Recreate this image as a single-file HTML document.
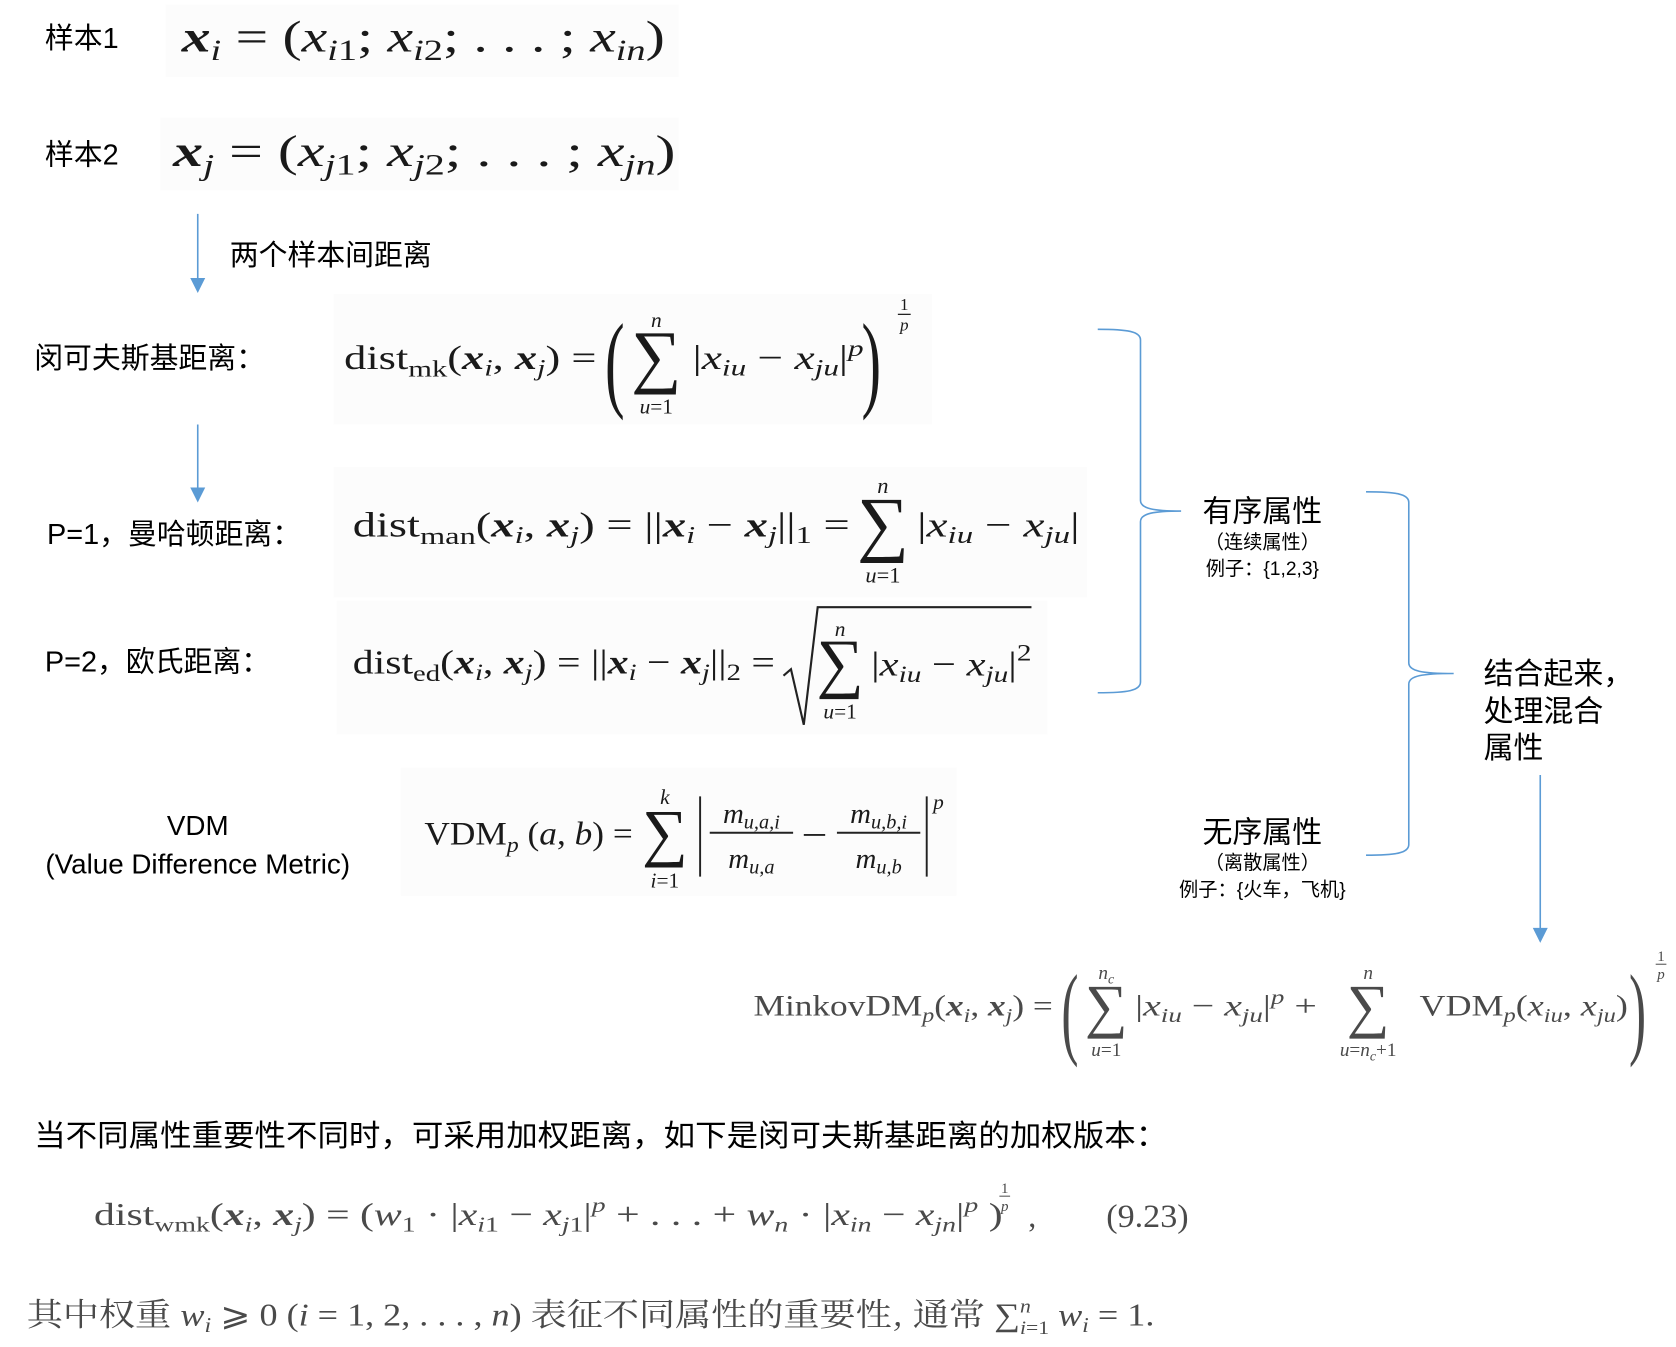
<!DOCTYPE html>
<html><head><meta charset="utf-8"><style>
html,body{margin:0;padding:0;background:#fff;}
svg{display:block;}
.cn{font-family:"Liberation Sans","Noto Sans CJK SC",sans-serif;fill:#000;}
.m{font-family:"Liberation Serif","DejaVu Serif",serif;fill:#1a1a1a;}
.g{fill:#4a4a4a;}
.b{font-weight:bold;font-style:italic;}
.i{font-style:italic;}
</style></head><body>
<svg width="1676" height="1347" viewBox="0 0 1568 1260" xmlns="http://www.w3.org/2000/svg">
<rect x="155" y="4" width="480" height="68" fill="#fcfcfc"/>
<rect x="150" y="110" width="485" height="68" fill="#fcfcfc"/>
<rect x="312" y="275" width="560" height="122" fill="#fcfcfc"/>
<rect x="312" y="437" width="705" height="122" fill="#fcfcfc"/>
<rect x="315" y="562" width="665" height="125" fill="#fcfcfc"/>
<rect x="375" y="718" width="520" height="120" fill="#fcfcfc"/>

<text class="cn" x="42" y="45" font-size="27">样本1</text>
<text class="cn" x="42" y="154" font-size="27">样本2</text>
<text class="cn" x="215" y="248" font-size="27">两个样本间距离</text>
<text class="cn" x="32" y="344" font-size="27">闵可夫斯基距离：</text>
<text class="cn" x="44" y="509" font-size="27">P=1，曼哈顿距离：</text>
<text class="cn" x="42" y="628" font-size="27">P=2，欧氏距离：</text>
<text class="cn" x="185" y="781" font-size="26" text-anchor="middle">VDM</text>
<text class="cn" x="185" y="817" font-size="26" text-anchor="middle">(Value Difference Metric)</text>

<g stroke="#5b9bd5" stroke-width="1.5" fill="none">
<line x1="185" y1="200" x2="185" y2="262"/>
<line x1="185" y1="397" x2="185" y2="458"/>
<line x1="1441" y1="725" x2="1441" y2="870"/>
<path d="M1027,308 C1055,308 1067,310 1067,318 L1067,468 C1067,476 1080,478 1105,478 C1080,478 1067,480 1067,488 L1067,638 C1067,646 1055,648 1027,648"/>
<path d="M1278,460 C1306,460 1318,462 1318,470 L1318,620 C1318,628 1331,630 1360,630 C1331,630 1318,632 1318,640 L1318,790 C1318,798 1306,800 1278,800"/>
</g>
<g fill="#5b9bd5">
<polygon points="178,260 192,260 185,274"/>
<polygon points="178,456 192,456 185,470"/>
<polygon points="1434,868 1448,868 1441,882"/>
</g>

<text class="cn" x="1181" y="488" font-size="28" text-anchor="middle">有序属性</text>
<text class="cn" x="1181" y="513" font-size="18" text-anchor="middle">（连续属性）</text>
<text class="cn" x="1181" y="538" font-size="18" text-anchor="middle">例子：{1,2,3}</text>
<text class="cn" x="1181" y="788" font-size="28" text-anchor="middle">无序属性</text>
<text class="cn" x="1181" y="813" font-size="18" text-anchor="middle">（离散属性）</text>
<text class="cn" x="1181" y="838" font-size="18" text-anchor="middle">例子：{火车，飞机}</text>
<text class="cn" x="1388" y="640" font-size="28">结合起来，</text>
<text class="cn" x="1388" y="675" font-size="28">处理混合</text>
<text class="cn" x="1388" y="709" font-size="28">属性</text>

<text class="m" x="170" y="48" font-size="42" textLength="452" lengthAdjust="spacingAndGlyphs"><tspan class="b">x</tspan><tspan class="i" font-size="28" dy="8">i</tspan><tspan dy="-8"> = (</tspan><tspan class="i">x</tspan><tspan class="i" font-size="28" dy="8">i</tspan><tspan font-size="28">1</tspan><tspan dy="-8">; </tspan><tspan class="i">x</tspan><tspan class="i" font-size="28" dy="8">i</tspan><tspan font-size="28">2</tspan><tspan dy="-8">; . . . ; </tspan><tspan class="i">x</tspan><tspan class="i" font-size="28" dy="8">in</tspan><tspan dy="-8">)</tspan></text>
<text class="m" x="162" y="155" font-size="42" textLength="470" lengthAdjust="spacingAndGlyphs"><tspan class="b">x</tspan><tspan class="i" font-size="28" dy="8">j</tspan><tspan dy="-8"> = (</tspan><tspan class="i">x</tspan><tspan class="i" font-size="28" dy="8">j</tspan><tspan font-size="28">1</tspan><tspan dy="-8">; </tspan><tspan class="i">x</tspan><tspan class="i" font-size="28" dy="8">j</tspan><tspan font-size="28">2</tspan><tspan dy="-8">; . . . ; </tspan><tspan class="i">x</tspan><tspan class="i" font-size="28" dy="8">jn</tspan><tspan dy="-8">)</tspan></text>

<text class="m" x="322" y="345" font-size="32" textLength="236" lengthAdjust="spacingAndGlyphs">dist<tspan font-size="22" dy="7">mk</tspan><tspan dy="-7">(</tspan><tspan class="b">x</tspan><tspan class="i" font-size="22" dy="6">i</tspan><tspan dy="-6">, </tspan><tspan class="b">x</tspan><tspan class="i" font-size="22" dy="6">j</tspan><tspan dy="-6">) =</tspan></text>
<text class="m" x="566" y="372" font-size="100" transform="translate(566 372) scale(0.55 1) translate(-566 -372)">(</text>
<text class="m i" x="614" y="306" font-size="20" text-anchor="middle">n</text>
<text class="m" x="614" y="355" font-size="66" text-anchor="middle">∑</text>
<text class="m" x="614" y="387" font-size="20" text-anchor="middle"><tspan font-style="italic">u</tspan>=1</text>
<text class="m" x="648" y="345" font-size="32" textLength="160" lengthAdjust="spacingAndGlyphs">|<tspan class="i">x</tspan><tspan class="i" font-size="22" dy="6">iu</tspan><tspan dy="-6"> − </tspan><tspan class="i">x</tspan><tspan class="i" font-size="22" dy="6">ju</tspan><tspan dy="-6">|</tspan><tspan class="i" font-size="22" dy="-12">p</tspan></text>
<text class="m" x="806" y="372" font-size="100" transform="translate(806 372) scale(0.55 1) translate(-806 -372)">)</text>
<text class="m" x="846" y="290" font-size="16" text-anchor="middle">1</text>
<line x1="840" y1="294" x2="852" y2="294" stroke="#222" stroke-width="1.2"/>
<text class="m i" x="846" y="309" font-size="16" text-anchor="middle">p</text>

<text class="m" x="330" y="502" font-size="33" textLength="465" lengthAdjust="spacingAndGlyphs">dist<tspan font-size="23" dy="7">man</tspan><tspan dy="-7">(</tspan><tspan class="b">x</tspan><tspan class="i" font-size="23" dy="6">i</tspan><tspan dy="-6">, </tspan><tspan class="b">x</tspan><tspan class="i" font-size="23" dy="6">j</tspan><tspan dy="-6">) = ||</tspan><tspan class="b">x</tspan><tspan class="i" font-size="23" dy="6">i</tspan><tspan dy="-6"> − </tspan><tspan class="b">x</tspan><tspan class="i" font-size="23" dy="6">j</tspan><tspan dy="-6">||</tspan><tspan font-size="23" dy="6">1</tspan><tspan dy="-6"> =</tspan></text>
<text class="m i" x="826" y="461" font-size="21" text-anchor="middle">n</text>
<text class="m" x="826" y="512" font-size="68" text-anchor="middle">∑</text>
<text class="m" x="826" y="545" font-size="21" text-anchor="middle"><tspan font-style="italic">u</tspan>=1</text>
<text class="m" x="858" y="502" font-size="33" textLength="152" lengthAdjust="spacingAndGlyphs">|<tspan class="i">x</tspan><tspan class="i" font-size="23" dy="6">iu</tspan><tspan dy="-6"> − </tspan><tspan class="i">x</tspan><tspan class="i" font-size="23" dy="6">ju</tspan><tspan dy="-6">|</tspan></text>

<text class="m" x="330" y="630" font-size="32" textLength="395" lengthAdjust="spacingAndGlyphs">dist<tspan font-size="22" dy="7">ed</tspan><tspan dy="-7">(</tspan><tspan class="b">x</tspan><tspan class="i" font-size="22" dy="6">i</tspan><tspan dy="-6">, </tspan><tspan class="b">x</tspan><tspan class="i" font-size="22" dy="6">j</tspan><tspan dy="-6">) = ||</tspan><tspan class="b">x</tspan><tspan class="i" font-size="22" dy="6">i</tspan><tspan dy="-6"> − </tspan><tspan class="b">x</tspan><tspan class="i" font-size="22" dy="6">j</tspan><tspan dy="-6">||</tspan><tspan font-size="22" dy="6">2</tspan><tspan dy="-6"> =</tspan></text>
<path d="M733,632 L740,626 L752,678 L765,568 L965,568" stroke="#222" stroke-width="2" fill="none"/>
<text class="m i" x="786" y="595" font-size="20" text-anchor="middle">n</text>
<text class="m" x="786" y="641" font-size="62" text-anchor="middle">∑</text>
<text class="m" x="786" y="672" font-size="20" text-anchor="middle"><tspan font-style="italic">u</tspan>=1</text>
<text class="m" x="815" y="632" font-size="32" textLength="150" lengthAdjust="spacingAndGlyphs">|<tspan class="i">x</tspan><tspan class="i" font-size="22" dy="6">iu</tspan><tspan dy="-6"> − </tspan><tspan class="i">x</tspan><tspan class="i" font-size="22" dy="6">ju</tspan><tspan dy="-6">|</tspan><tspan font-size="22" dy="-14">2</tspan></text>

<text class="m" x="397" y="790" font-size="31" textLength="195" lengthAdjust="spacingAndGlyphs">VDM<tspan class="i" font-size="21" dy="7">p</tspan><tspan dy="-7"> (</tspan><tspan class="i">a</tspan>, <tspan class="i">b</tspan>) =</text>
<text class="m i" x="622" y="752" font-size="20" text-anchor="middle">k</text>
<text class="m" x="622" y="799" font-size="60" text-anchor="middle">∑</text>
<text class="m" x="622" y="830" font-size="20" text-anchor="middle"><tspan font-style="italic">i</tspan>=1</text>
<g stroke="#222" stroke-width="1.8">
<line x1="655" y1="745" x2="655" y2="820"/>
<line x1="867" y1="745" x2="867" y2="820"/>
<line x1="664" y1="779" x2="742" y2="779"/>
<line x1="783" y1="779" x2="861" y2="779"/>
<line x1="752" y1="781" x2="772" y2="781"/>
</g>
<text class="m i" x="703" y="770" font-size="27" text-anchor="middle">m<tspan font-size="19" dy="5">u,a,i</tspan></text>
<text class="m i" x="703" y="812" font-size="27" text-anchor="middle">m<tspan font-size="19" dy="5">u,a</tspan></text>
<text class="m i" x="822" y="770" font-size="27" text-anchor="middle">m<tspan font-size="19" dy="5">u,b,i</tspan></text>
<text class="m i" x="822" y="812" font-size="27" text-anchor="middle">m<tspan font-size="19" dy="5">u,b</tspan></text>
<text class="m i" x="873" y="757" font-size="20">p</text>

<g class="g">
<text class="m g" x="705" y="950" font-size="28" textLength="280" lengthAdjust="spacingAndGlyphs">MinkovDM<tspan class="i" font-size="19" dy="6">p</tspan><tspan dy="-6">(</tspan><tspan class="b">x</tspan><tspan class="i" font-size="19" dy="6">i</tspan><tspan dy="-6">, </tspan><tspan class="b">x</tspan><tspan class="i" font-size="19" dy="6">j</tspan><tspan dy="-6">) =</tspan></text>
<text class="m g" x="993" y="978" font-size="96" transform="translate(993 978) scale(0.5 1) translate(-993 -978)">(</text>
<text class="m g i" x="1035" y="916" font-size="18" text-anchor="middle">n<tspan font-size="13" dy="4">c</tspan></text>
<text class="m g" x="1035" y="960" font-size="56" text-anchor="middle">∑</text>
<text class="m g" x="1035" y="988" font-size="18" text-anchor="middle"><tspan font-style="italic">u</tspan>=1</text>
<text class="m g" x="1062" y="950" font-size="28" textLength="170" lengthAdjust="spacingAndGlyphs">|<tspan class="i">x</tspan><tspan class="i" font-size="19" dy="6">iu</tspan><tspan dy="-6"> − </tspan><tspan class="i">x</tspan><tspan class="i" font-size="19" dy="6">ju</tspan><tspan dy="-6">|</tspan><tspan class="i" font-size="19" dy="-11">p</tspan><tspan dy="11"> +</tspan></text>
<text class="m g i" x="1280" y="916" font-size="18" text-anchor="middle">n</text>
<text class="m g" x="1280" y="960" font-size="56" text-anchor="middle">∑</text>
<text class="m g" x="1280" y="988" font-size="18" text-anchor="middle"><tspan font-style="italic">u</tspan>=<tspan font-style="italic">n</tspan><tspan font-size="13" dy="4" font-style="italic">c</tspan><tspan dy="-4">+1</tspan></text>
<text class="m g" x="1328" y="950" font-size="28" textLength="195" lengthAdjust="spacingAndGlyphs">VDM<tspan class="i" font-size="19" dy="6">p</tspan><tspan dy="-6">(</tspan><tspan class="i">x</tspan><tspan class="i" font-size="19" dy="6">iu</tspan><tspan dy="-6">, </tspan><tspan class="i">x</tspan><tspan class="i" font-size="19" dy="6">ju</tspan><tspan dy="-6">)</tspan></text>
<text class="m g" x="1524" y="978" font-size="96" transform="translate(1524 978) scale(0.5 1) translate(-1524 -978)">)</text>
<text class="m g" x="1554" y="899" font-size="14" text-anchor="middle">1</text>
<line x1="1549" y1="902" x2="1559" y2="902" stroke="#555" stroke-width="1"/>
<text class="m g i" x="1554" y="916" font-size="14" text-anchor="middle">p</text>
</g>

<text class="cn" x="32" y="1072" font-size="28" textLength="1060" lengthAdjust="spacingAndGlyphs">当不同属性重要性不同时，可采用加权距离，如下是闵可夫斯基距离的加权版本：</text>
<text class="m g" x="88" y="1146" font-size="30" textLength="850" lengthAdjust="spacingAndGlyphs">dist<tspan font-size="20" dy="6">wmk</tspan><tspan dy="-6">(</tspan><tspan class="b">x</tspan><tspan class="i" font-size="20" dy="6">i</tspan><tspan dy="-6">, </tspan><tspan class="b">x</tspan><tspan class="i" font-size="20" dy="6">j</tspan><tspan dy="-6">) = (</tspan><tspan class="i">w</tspan><tspan font-size="20" dy="6">1</tspan><tspan dy="-6"> · |</tspan><tspan class="i">x</tspan><tspan class="i" font-size="20" dy="6">i</tspan><tspan font-size="20">1</tspan><tspan dy="-6"> − </tspan><tspan class="i">x</tspan><tspan class="i" font-size="20" dy="6">j</tspan><tspan font-size="20">1</tspan><tspan dy="-6">|</tspan><tspan class="i" font-size="20" dy="-12">p</tspan><tspan dy="12"> + . . . + </tspan><tspan class="i">w</tspan><tspan class="i" font-size="20" dy="6">n</tspan><tspan dy="-6"> · |</tspan><tspan class="i">x</tspan><tspan class="i" font-size="20" dy="6">in</tspan><tspan dy="-6"> − </tspan><tspan class="i">x</tspan><tspan class="i" font-size="20" dy="6">jn</tspan><tspan dy="-6">|</tspan><tspan class="i" font-size="20" dy="-12">p</tspan><tspan dy="12"> )</tspan></text>
<text class="m g" x="940" y="1116" font-size="14" text-anchor="middle">1</text>
<line x1="935" y1="1119" x2="945" y2="1119" stroke="#555" stroke-width="1"/>
<text class="m g i" x="940" y="1133" font-size="14" text-anchor="middle">p</text>
<text class="m g" x="962" y="1148" font-size="30">,</text>
<text class="m g" x="1035" y="1148" font-size="31" textLength="77" lengthAdjust="spacingAndGlyphs">(9.23)</text>
<text class="m g" x="25" y="1240" font-size="30" textLength="1055" lengthAdjust="spacingAndGlyphs"><tspan font-family="Noto Serif CJK SC, Noto Sans CJK SC, serif">其中权重 </tspan><tspan class="i">w</tspan><tspan class="i" font-size="20" dy="6">i</tspan><tspan dy="-6"> ⩾ 0 (</tspan><tspan class="i">i</tspan> = 1, 2, . . . , <tspan class="i">n</tspan>) <tspan font-family="Noto Serif CJK SC, Noto Sans CJK SC, serif">表征不同属性的重要性, 通常 </tspan>∑<tspan class="i" font-size="18" dy="-12">n</tspan><tspan font-size="18" dx="-9" dy="20"><tspan font-style="italic">i</tspan>=1</tspan><tspan dy="-8"> </tspan><tspan class="i">w</tspan><tspan class="i" font-size="20" dy="6">i</tspan><tspan dy="-6"> = 1.</tspan></text>
</svg>
</body></html>
